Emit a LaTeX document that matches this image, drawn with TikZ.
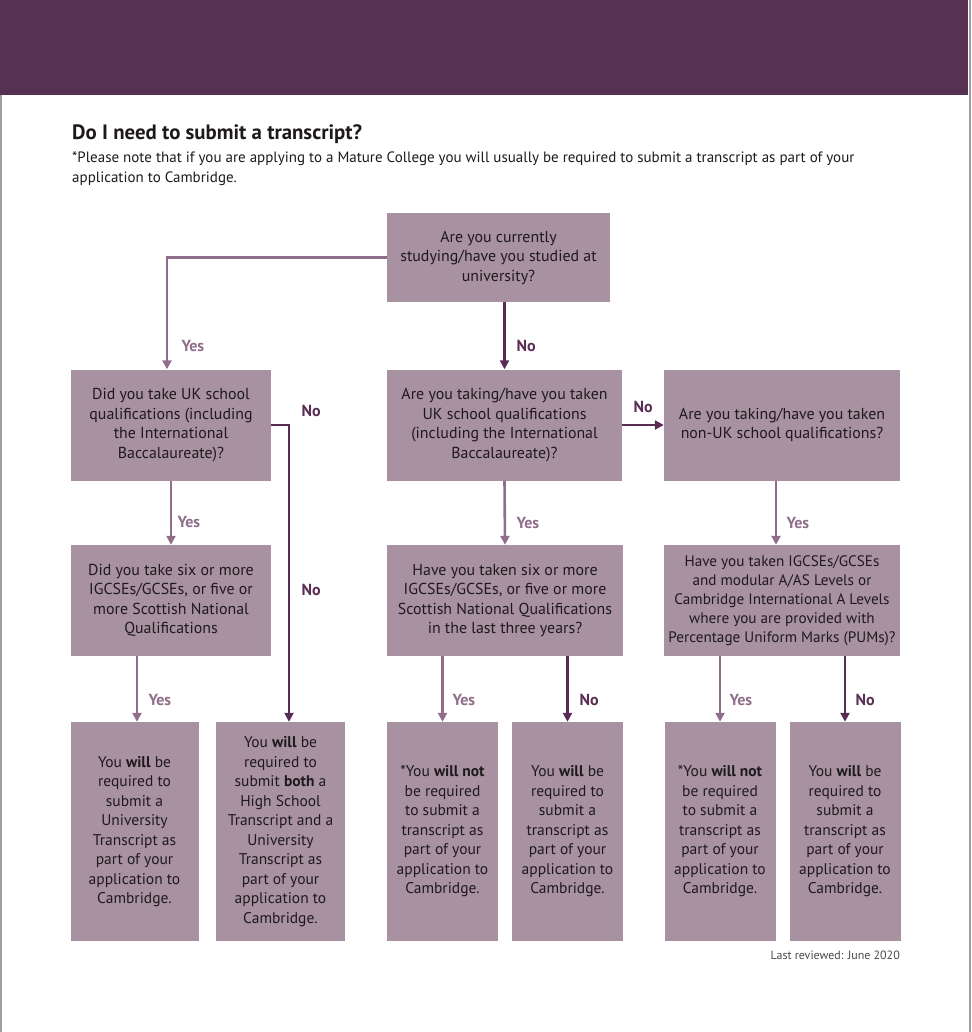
\documentclass[tikz,border=0pt]{standalone}
\usepackage{fontspec}
\setmainfont{PT Sans}
\usepackage{tikz}
\usetikzlibrary{arrows.meta,positioning}
\usepackage{xcolor}
\definecolor{bannerplum}{RGB}{86,49,82}
\definecolor{boxplum}{RGB}{168,145,160}
\definecolor{noplum}{RGB}{88,44,84}
\definecolor{yesplum}{RGB}{143,110,138}
\definecolor{inktext}{RGB}{30,26,28}

\tikzset{
  qbox/.style={fill=boxplum,draw=none,inner sep=2pt,align=center,text=inktext,
    font=\fontsize{15.9}{19.5}\selectfont},
  rbox/.style={qbox,minimum height=219pt,font=\fontsize{15.5}{19.5}\selectfont},
  yesline/.style={yesplum,line width=2.6pt,-{Triangle[length=9pt,width=9pt]}},
  noline/.style={noplum,line width=2.6pt,-{Triangle[length=9pt,width=9pt]}},
  yeslbl/.style={yesplum,font=\bfseries\fontsize{16}{18}\selectfont,anchor=west},
  nolbl/.style={noplum,font=\bfseries\fontsize{16}{18}\selectfont,anchor=west},
}

\begin{document}
\begin{tikzpicture}[x=1pt,y=-1pt]
  \useasboundingbox (0,0) rectangle (971,1032);
  % page
  \fill[bannerplum] (0,0) rectangle (968,95);
  \draw[gray!75,line width=1.5pt] (0.75,95) -- (0.75,1032);
  \draw[gray!75,line width=2pt] (969.5,0) -- (969.5,1032);
  \node[anchor=base west,inner sep=0pt,text=inktext,font=\bfseries\fontsize{20.8}{22}\selectfont]
    (title) at (72,140) {Do I need to submit a transcript?};
  \node[anchor=north west,inner sep=0pt,text=inktext,align=left,
    font=\fontsize{15}{19.5}\selectfont] (note) at (72,152)
    {*Please note that if you are applying to a Mature College you will usually be required to submit a transcript as part of your\\application to Cambridge.};
  % questions
  \node[qbox,minimum width=223pt,minimum height=89pt] (q1) at (498.5,257.5)
    {Are you currently\\studying/have you studied at\\university?};
  \node[qbox,minimum width=200pt,minimum height=111pt] (q2) at (171,425)
    {Did you take UK school\\qualifications (including\\the International\\Baccalaureate)?};
  \node[qbox,minimum width=235pt,minimum height=111pt] (q3) at (504.5,425)
    {Are you taking/have you taken\\UK school qualifications\\(including the International\\Baccalaureate)?};
  \node[qbox,minimum width=236pt,minimum height=111pt] (q4) at (782,425)
    {Are you taking/have you taken\\non-UK school qualifications?};
  \node[qbox,minimum width=200pt,minimum height=111pt] (q5) at (171,600.5)
    {Did you take six or more\\IGCSEs/GCSEs, or five or\\more Scottish National\\Qualifications};
  \node[qbox,minimum width=236pt,minimum height=111pt] (q6) at (505,600.5)
    {Have you taken six or more\\IGCSEs/GCSEs, or five or more\\Scottish National Qualifications\\in the last three years?};
  \node[qbox,minimum width=236pt,minimum height=111pt,
    font=\fontsize{15.2}{19}\selectfont] (q7) at (782,600.5)
    {Have you taken IGCSEs/GCSEs\\and modular A/AS Levels or\\Cambridge International A Levels\\where you are provided with\\Percentage Uniform Marks (PUMs)?};
  % outcomes
  \node[rbox,minimum width=128pt] (r1) at (134.5,831.5)
    {You \textbf{will} be\\required to\\submit a\\University\\Transcript as\\part of your\\application to\\Cambridge.};
  \node[rbox,minimum width=129pt] (r2) at (280.5,831.5)
    {You \textbf{will} be\\required to\\submit \textbf{both} a\\High School\\Transcript and a\\University\\Transcript as\\part of your\\application to\\Cambridge.};
  \node[rbox,minimum width=111pt] (r3) at (442.5,831.5)
    {*You \textbf{will not}\\be required\\to submit a\\transcript as\\part of your\\application to\\Cambridge.};
  \node[rbox,minimum width=111pt] (r4) at (567.5,831.5)
    {You \textbf{will} be\\required to\\submit a\\transcript as\\part of your\\application to\\Cambridge.};
  \node[rbox,minimum width=111pt] (r5) at (720,831.5)
    {*You \textbf{will not}\\be required\\to submit a\\transcript as\\part of your\\application to\\Cambridge.};
  \node[rbox,minimum width=111pt] (r6) at (845,831.5)
    {You \textbf{will} be\\required to\\submit a\\transcript as\\part of your\\application to\\Cambridge.};
  % connectors
  \draw[yesline] (q1.west) -| ([xshift=-4pt]q2.north);
  \draw[noline] (q3.north |- q1.south) -- (q3.north);
  \draw[noline] (q2.east) -| ([xshift=8.5pt]r2.north);
  \draw[yesline] (q2.south) -- (q5.north);
  \draw[yesline] ([xshift=2.5pt]r1.north |- q5.south) -- ([xshift=2.5pt]r1.north);
  \draw[noline] (q3.east) -- (q4.west);
  \draw[yesline] (q3.south) -- (q6.north);
  \draw[yesline] ([xshift=-6pt]q4.south) -- ([xshift=-6pt]q7.north);
  \draw[yesline] (r3.north |- q6.south) -- (r3.north);
  \draw[noline] (r4.north |- q6.south) -- (r4.north);
  \draw[yesline] (r5.north |- q7.south) -- (r5.north);
  \draw[noline] (r6.north |- q7.south) -- (r6.north);
  % branch labels
  \node[yeslbl] (y1) at (178,346) {Yes};
  \node[nolbl] (n1) at (513,346) {No};
  \node[nolbl] (n2) at (298,411) {No};
  \node[nolbl] (n3) at (298,590) {No};
  \node[yeslbl] (y2) at (174,522) {Yes};
  \node[yeslbl] (y3) at (145,700) {Yes};
  \node[nolbl] (n4) at (630,407) {No};
  \node[yeslbl] (y4) at (513,523) {Yes};
  \node[yeslbl] (y5) at (783,523) {Yes};
  \node[yeslbl] (y6) at (449,700) {Yes};
  \node[nolbl] (n5) at (576,700) {No};
  \node[yeslbl] (y7) at (726,700) {Yes};
  \node[nolbl] (n6) at (852,700) {No};
  \node[anchor=base east,inner sep=0pt,text=inktext!80,font=\fontsize{12}{14}\selectfont]
    (rev) at (900,959) {Last reviewed: June 2020};
\end{tikzpicture}
\end{document}
